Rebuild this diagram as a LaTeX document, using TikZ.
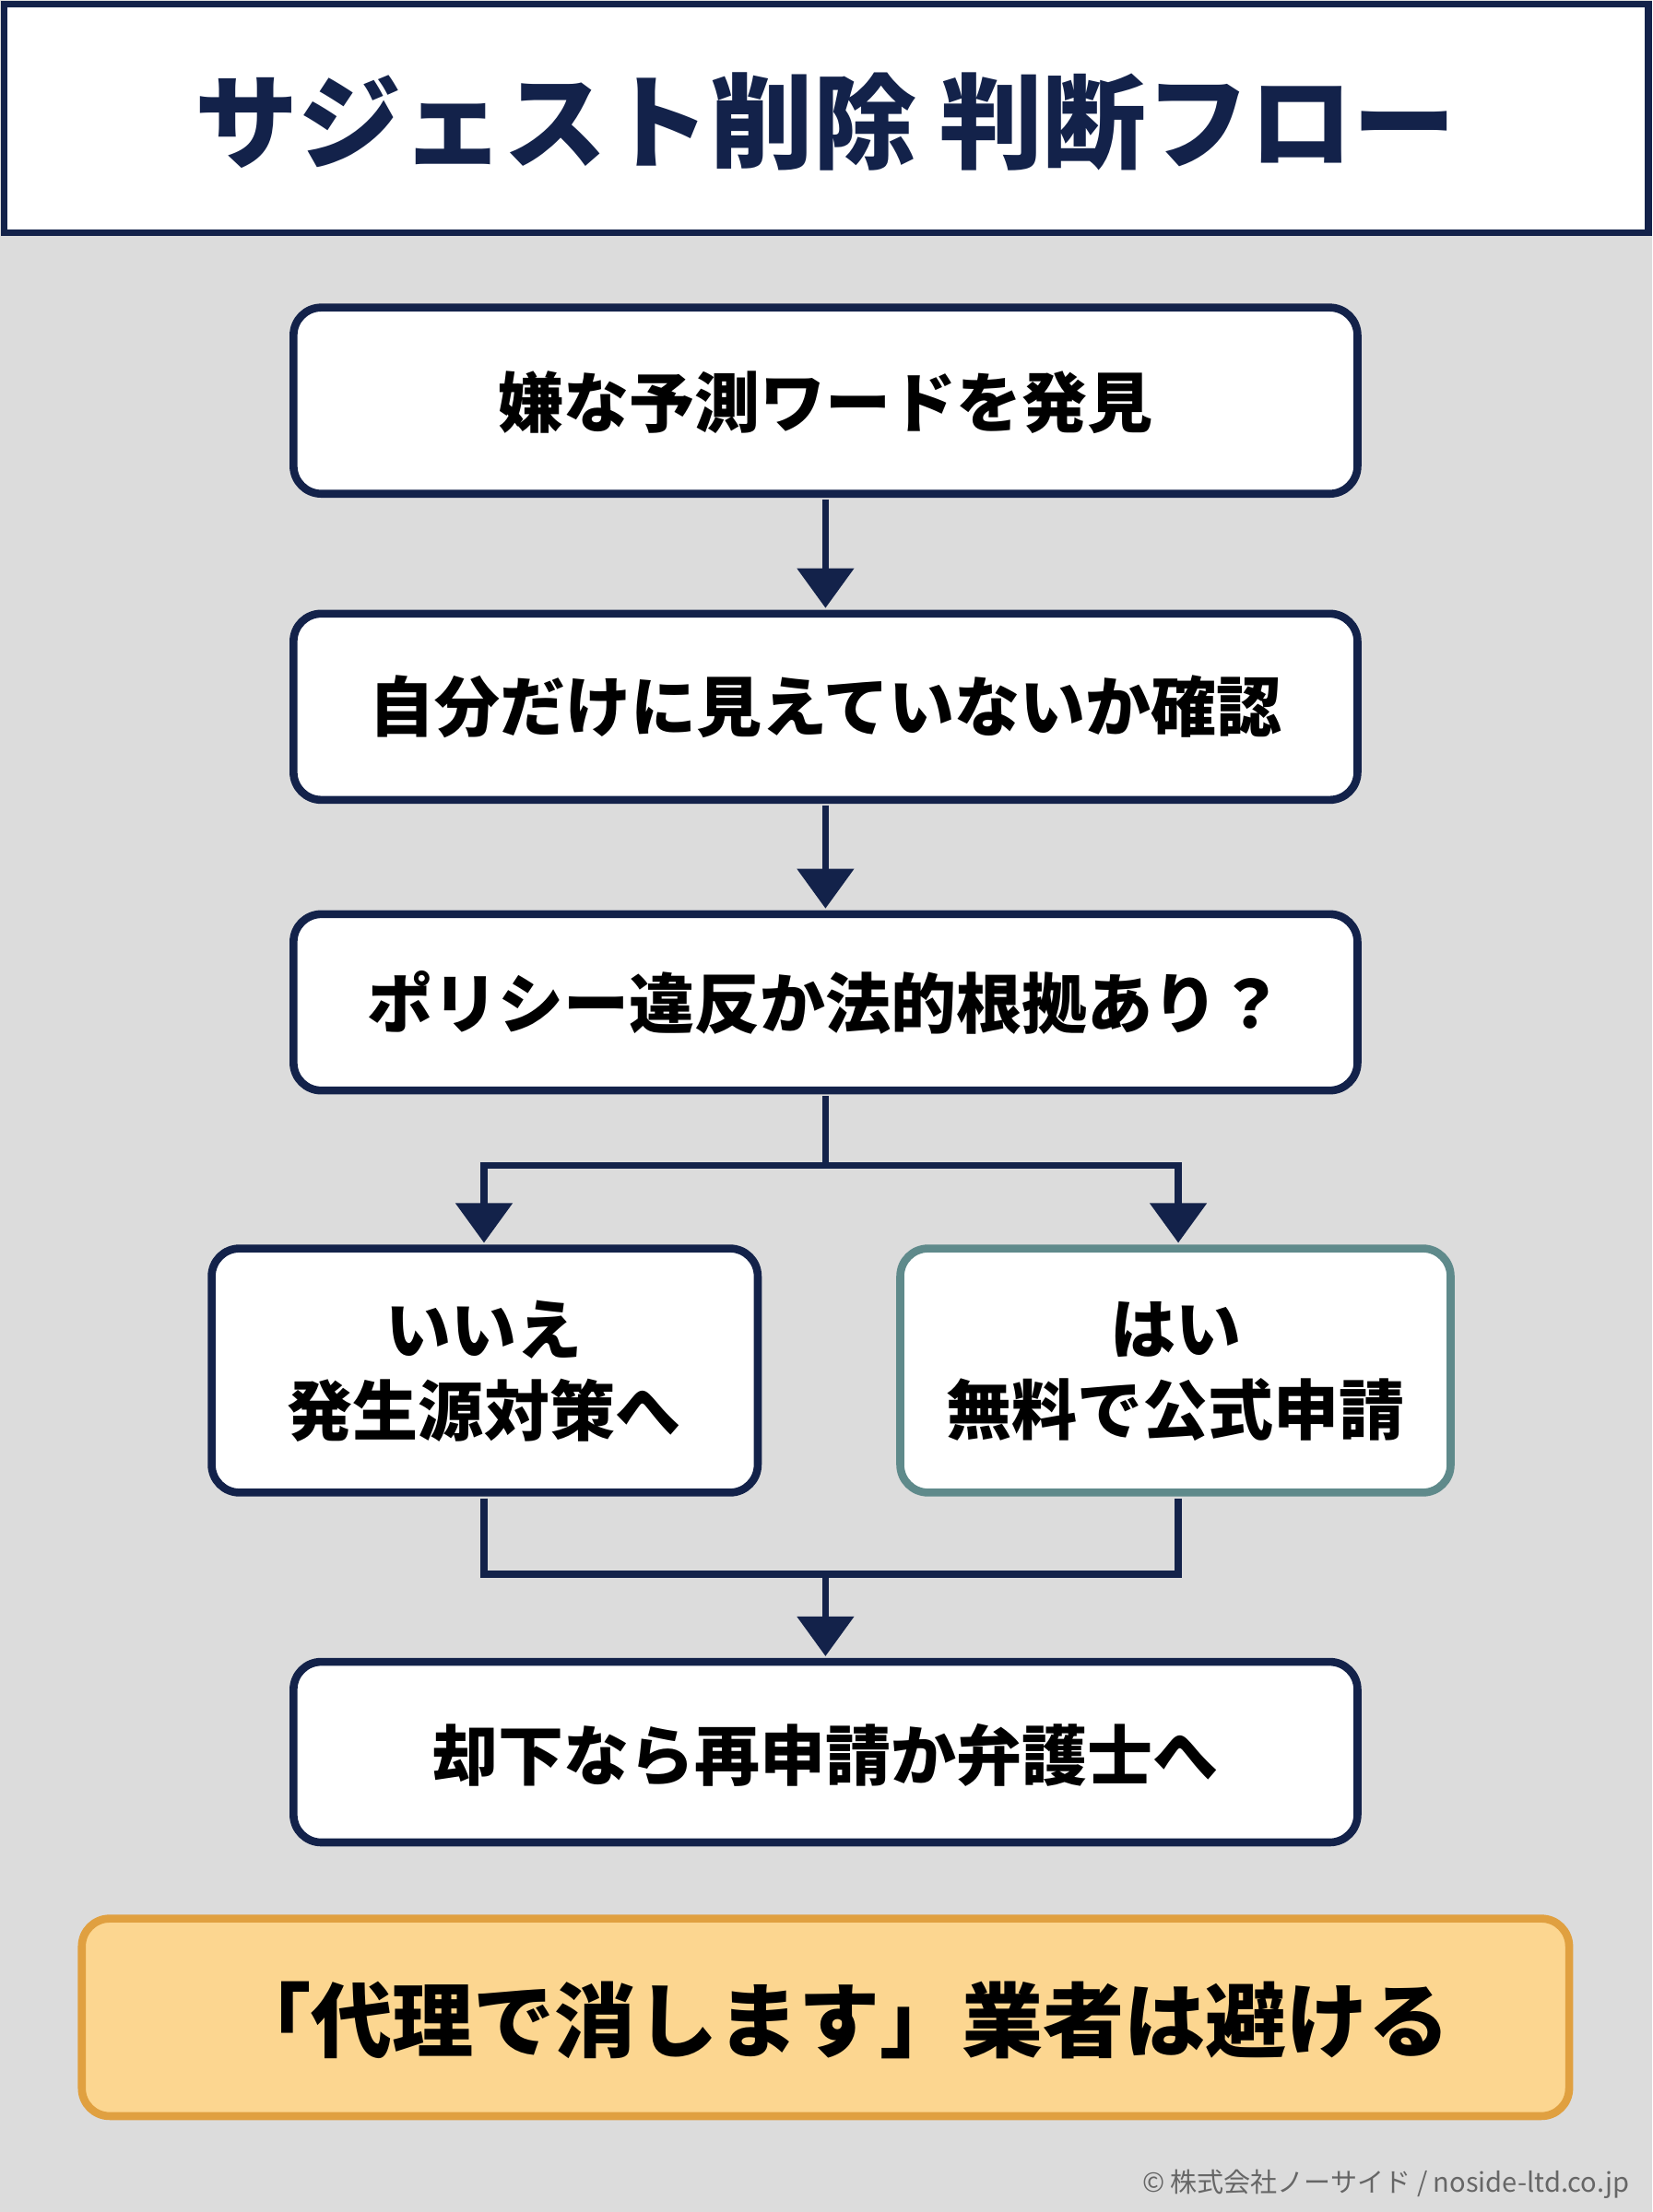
\documentclass[tikz,border=0pt]{standalone}
\usepackage{fontspec}
\setmainfont{Noto Sans CJK JP}
\usetikzlibrary{arrows.meta}
\definecolor{navy}{HTML}{13224A}
\definecolor{teal}{HTML}{5F8A8B}
\definecolor{bg}{HTML}{DCDCDC}
\definecolor{orfill}{HTML}{FCD690}
\definecolor{orline}{HTML}{E0A040}
\begin{document}
\begin{tikzpicture}[x=0.05cm,y=-0.05cm,
  box/.style={draw=navy,line width=8pt,fill=white,rounded corners=28pt},
  btxt/.style={font=\bfseries\fontsize{66}{82}\selectfont,text=black,align=center},
  conn/.style={draw=navy,line width=7pt},
  arr/.style={conn,-{Triangle[length=40pt,width=56pt]}}]
\fill[bg] (0,0) rectangle (1171,1568);
\useasboundingbox (0,0) rectangle (1171,1568);
\draw[draw=navy,line width=7pt,fill=white] (3,3) rectangle (1168,165);
\node[text=navy,font=\bfseries\fontsize{104}{110}\selectfont] (title) at (585,86) {サジェスト削除 判断フロー};
\draw[box] (208,218) rectangle (962,350); \node[btxt] (b1) at (585,285) {嫌な予測ワードを発見};
\draw[box] (208,435) rectangle (962,567); \node[btxt] (b2) at (585,501) {自分だけに見えていないか確認};
\draw[box] (208,648) rectangle (962,773); \node[btxt] (b3) at (585,711) {ポリシー違反か法的根拠あり？};
\draw[box] (150,885) rectangle (537,1058); \node[btxt] (b4) at (343,972) {いいえ\\発生源対策へ};
\draw[box,draw=teal] (638,885) rectangle (1028,1058); \node[btxt] (b5) at (833,972) {はい\\無料で公式申請};
\draw[box] (208,1178) rectangle (962,1306); \node[btxt] (b6) at (585,1244) {却下なら再申請か弁護士へ};
\draw[draw=orline,line width=8pt,fill=orfill,rounded corners=28pt] (58,1360) rectangle (1112,1500);
\node[font=\bfseries\fontsize{82}{90}\selectfont] (ng) at (595,1432) {「代理で消します」業者は避ける};
\node[text=gray!80!black,font=\fontsize{27}{30}\selectfont] (foot) at (982,1548) {© 株式会社ノーサイド / noside-ltd.co.jp};
\coordinate (s1) at (585,354); \coordinate (e1) at (585,431);
\draw[arr] (s1) -- (e1);
\coordinate (s2) at (585,571); \coordinate (e2) at (585,644);
\draw[arr] (s2) -- (e2);
\coordinate (s3) at (585,777); \coordinate (m3) at (585,826);
\coordinate (l3) at (343,826); \coordinate (r3) at (835,826);
\coordinate (le) at (343,881); \coordinate (re) at (835,881);
\draw[conn] (s3) -- (m3);
\draw[arr,line join=miter] (m3) -- (l3) -- (le);
\draw[arr,line join=miter] (m3) -- (r3) -- (re);
\coordinate (ls) at (343,1062); \coordinate (rs) at (835,1062);
\coordinate (lm) at (343,1116); \coordinate (rm) at (835,1116);
\coordinate (mm) at (585,1116); \coordinate (me) at (585,1174);
\draw[conn,line join=miter] (ls) -- (lm) -- (rm) -- (rs);
\draw[arr] (mm) -- (me);
\end{tikzpicture}
\end{document}
